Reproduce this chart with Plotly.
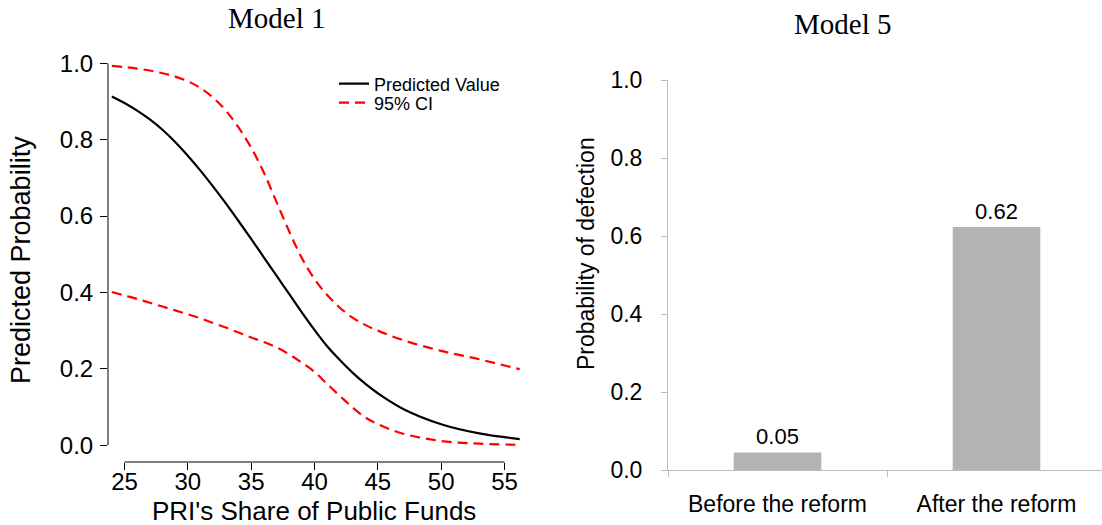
import plotly.graph_objects as go

W, H = 1102, 525

# ---------------- data: Model 1 ----------------
share = [24, 25, 26, 27, 28, 29, 30, 31, 32, 33, 34, 35, 36, 37, 38, 39, 40, 41, 42, 43, 44, 45,
         47, 50, 53, 56.2]
pred = [0.913, 0.896, 0.876, 0.853, 0.826, 0.794, 0.758, 0.719, 0.677, 0.633, 0.587, 0.540,
        0.492, 0.444, 0.396, 0.348, 0.302, 0.259, 0.223, 0.190, 0.161, 0.136, 0.095, 0.055,
        0.031, 0.016]
upper = [0.993, 0.990, 0.986, 0.981, 0.974, 0.965, 0.953, 0.935, 0.910, 0.876, 0.832, 0.779,
         0.714, 0.637, 0.560, 0.490, 0.435, 0.393, 0.360, 0.334, 0.315, 0.300, 0.275, 0.247,
         0.225, 0.199]
lower = [0.401, 0.392, 0.383, 0.373, 0.363, 0.353, 0.343, 0.332, 0.320, 0.308, 0.295, 0.282,
         0.270, 0.256, 0.238, 0.216, 0.192, 0.160, 0.129, 0.099, 0.073, 0.055, 0.030, 0.011,
         0.004, 0.001]
x_ticks_1 = [25, 30, 35, 40, 45, 50, 55]
y_ticks = [0.0, 0.2, 0.4, 0.6, 0.8, 1.0]

# ---------------- data: Model 5 ----------------
periods = ["Before the reform", "After the reform"]
prob_defect = [0.045, 0.623]
prob_labels = ["0.05", "0.62"]

font = "Liberation Sans, Arial, sans-serif"
serif = "Liberation Serif, Times New Roman, serif"

fig = go.Figure()

fig.add_trace(go.Scatter(x=share, y=pred, mode="lines", name="Predicted Value",
                         line=dict(color="black", width=2.2, shape="spline", smoothing=1.0),
                         xaxis="x", yaxis="y", legend="legend"))
fig.add_trace(go.Scatter(x=share, y=upper, mode="lines", name="95% CI",
                         line=dict(color="#ff0000", width=2.2, dash="10px,6px", shape="spline",
                                   smoothing=1.0),
                         xaxis="x", yaxis="y", legend="legend2"))
fig.add_trace(go.Scatter(x=share, y=lower, mode="lines", name="95% CI", showlegend=False,
                         line=dict(color="#ff0000", width=2.2, dash="10px,6px", shape="spline",
                                   smoothing=1.0),
                         xaxis="x", yaxis="y", legend="legend2"))

fig.add_trace(go.Bar(x=periods, y=prob_defect, text=prob_labels, textposition="outside",
                     textfont=dict(size=22, color="black", family=font),
                     marker=dict(color="#b3b3b3", line=dict(width=0)), width=0.4,
                     showlegend=False, cliponaxis=False, xaxis="x2", yaxis="y2"))

leg_common = dict(xanchor="left", yanchor="middle", bgcolor="rgba(0,0,0,0)",
                  font=dict(size=18, family=font), borderwidth=0)

fig.update_layout(
    width=W, height=H,
    margin=dict(l=0, r=0, t=0, b=0, autoexpand=False),
    paper_bgcolor="white", plot_bgcolor="white",
    font=dict(family=font, color="black"),
    showlegend=True,
    legend=dict(x=334 / W, y=1 - 84 / H, **leg_common),
    legend2=dict(x=334 / W, y=1 - 103 / H, **leg_common),
    xaxis=dict(domain=[108 / W, 521 / W], range=[23.7, 56.3], anchor="y", automargin=False,
               tickvals=x_ticks_1, ticks="outside", ticklen=7, tickcolor="black",
               tickwidth=1, showline=False, showgrid=False, zeroline=False,
               ticklabelstandoff=-9, tickfont=dict(size=24, family=font)),
    yaxis=dict(domain=[1 - 462 / H, 1 - 48 / H], range=[-0.044, 1.04], anchor="x",
               automargin=False,
               tickvals=y_ticks, tickformat=".1f", ticks="outside", ticklen=7,
               tickcolor="black", tickwidth=1, showline=False, showgrid=False,
               zeroline=False, ticklabelstandoff=2, tickfont=dict(size=24, family=font)),
    xaxis2=dict(domain=[668 / W, 1.0], range=[-0.5, 1.5 - 4 / 219], anchor="y2",
                automargin=False,
                type="category", tickson="boundaries", ticks="outside", ticklen=6,
                tickcolor="#bdbdbd", tickwidth=1, showline=True, linecolor="#bdbdbd",
                linewidth=1, showgrid=False, zeroline=False, ticklabelstandoff=13,
                tickfont=dict(size=23, family=font)),
    yaxis2=dict(domain=[1 - 470 / H, 1 - 80 / H], range=[0, 1], anchor="x2",
                automargin=False,
                tickvals=y_ticks, tickformat=".1f", ticks="outside", ticklen=6,
                tickcolor="#bdbdbd", tickwidth=1, showline=True, linecolor="#bdbdbd",
                linewidth=1, showgrid=False, zeroline=False, ticklabelstandoff=14,
                tickfont=dict(size=23, family=font)),
)

# detached R-style axis lines spanning the tick range
fig.add_shape(type="line", xref="x", yref="y domain", x0=min(x_ticks_1), x1=max(x_ticks_1),
              y0=0, y1=0, line=dict(color="black", width=1))
fig.add_shape(type="line", xref="x domain", yref="y", x0=0, x1=0,
              y0=min(y_ticks), y1=max(y_ticks), line=dict(color="black", width=1))

# axis titles
fig.add_annotation(text="PRI's Share of Public Funds", xref="paper", yref="paper",
                   x=314 / W, y=1 - 511 / H, xanchor="center", yanchor="middle",
                   showarrow=False, font=dict(size=26, family=font))
fig.add_annotation(text="Predicted Probability", xref="paper", yref="paper",
                   x=21 / W, y=1 - 260 / H, xanchor="center", yanchor="middle", textangle=-90,
                   showarrow=False, font=dict(size=27, family=font))
fig.add_annotation(text="Probability of defection", xref="paper", yref="paper",
                   x=586 / W, y=1 - 254 / H, xanchor="center", yanchor="middle", textangle=-90,
                   showarrow=False, font=dict(size=23, family=font))

# panel titles
fig.add_annotation(text="Model 1", xref="paper", yref="paper", x=276 / W, y=1 - 18 / H,
                   xanchor="center", yanchor="middle", showarrow=False,
                   font=dict(size=29, family=serif))
fig.add_annotation(text="Model 5", xref="paper", yref="paper", x=842 / W, y=1 - 24 / H,
                   xanchor="center", yanchor="middle", showarrow=False,
                   font=dict(size=29, family=serif))

fig.write_html("out.html")
